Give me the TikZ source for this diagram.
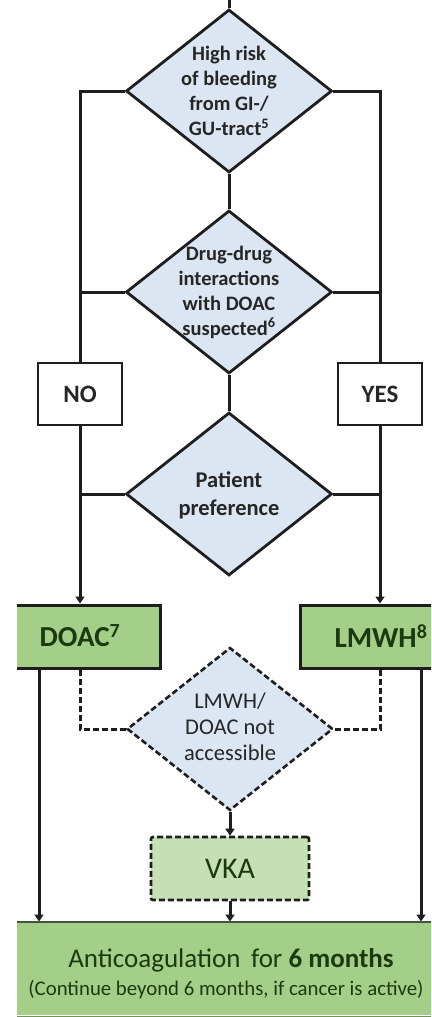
\documentclass[tikz,border=0pt]{standalone}
\usepackage{fontspec}
\setmainfont{Carlito}
\usetikzlibrary{shapes.geometric,arrows.meta}
\definecolor{dblue}{HTML}{DCE6F2}
\definecolor{gfill}{HTML}{A4CF88}
\definecolor{gvka}{HTML}{C5E0B4}
\definecolor{gtext}{HTML}{1C3A10}
\definecolor{ink}{HTML}{1E1E1E}
\definecolor{dtxt}{HTML}{262626}
\tikzset{
  conn/.style={draw=ink, line width=3pt},
  arr/.style={conn, -{Triangle[length=7pt,width=9pt]}},
  dsh/.style={dash pattern=on 6pt off 3pt},
  dia/.style={shape=diamond, draw=ink, line width=2.8pt, fill=dblue, inner sep=0pt,
    minimum width=206pt, minimum height=163pt},
  dtext/.style={align=center, text=dtxt, font=\bfseries\fontsize{20.5}{25}\selectfont},
  ynbox/.style={draw=ink, line width=2.6pt, fill=white, minimum width=84pt, minimum height=62pt,
    font=\bfseries\fontsize{25}{28}\selectfont, text=dtxt},
  gbox/.style={draw=ink, line width=3pt, fill=gfill},
  gtxt/.style={text=gtext, font=\bfseries\fontsize{29}{34}\selectfont},
}
\begin{document}
\begin{tikzpicture}[x=1pt,y=-1pt]
\useasboundingbox (0,0) rectangle (431,1017);
\clip (0,0) rectangle (431,1017);
% diamonds
\node[dia] (d1) at (229,91) {};
\node[dtext] at (d1) {High risk\\of bleeding\\from GI-/\\GU-tract\textsuperscript{5}};
\node[dia] (d2) at (229,292) {};
\node[dtext] at (d2) {Drug-drug\\interactions\\with DOAC\\suspected\textsuperscript{6}};
\node[dia] (d3) at (229,494) {};
\node[dtext, font=\bfseries\fontsize{22.5}{28}\selectfont, yshift=-1pt] at (d3) {Patient\\preference};
\node[dia, dsh, line width=2.6pt] (d4) at (230,729) {};
\node[dtext, font=\fontsize{22.5}{26}\selectfont, yshift=2pt] at (d4) {LMWH/\\DOAC not\\accessible};
% yes/no
\node[ynbox] (no) at (80,394) {NO};
\node[ynbox] (yes) at (380,394) {YES};
% green boxes (left edge cropped)
\begin{scope}
\clip (17,0) rectangle (431,1017);
\node[gbox, minimum width=163pt, minimum height=63pt] (doac) at (78.5,636.5) {};
\node[gbox, minimum width=163pt, minimum height=63pt] (lmwh) at (381.5,636.5) {};
\node[gbox, draw=none, minimum width=460pt, minimum height=92pt] (ac) at (231,969) {};
\draw[ink!70!gfill, line width=2pt] (ac.north west) -- (ac.north east);
\draw[gfill!70!black, line width=1.5pt] (ac.south west) -- (ac.south east);
\end{scope}
\node[gtxt] at (80,636) {DOAC\textsuperscript{\fontsize{20}{20}\selectfont 7}};
\node[gtxt] at (381,636) {LMWH\textsuperscript{\fontsize{20}{20}\selectfont 8}};
\node[draw=ink, line width=2.6pt, dsh, rounded corners=2pt, fill=gvka, minimum width=158pt, minimum height=63pt,
  text=gtext, font=\fontsize{30}{34}\selectfont] (vka) at (230,868.5) {VKA};
\node[align=center, text=gtext, font=\fontsize{27}{30}\selectfont] at (231,960) {Anticoagulation\, for \textbf{6 months}};
\node[align=center, text=gtext, font=\fontsize{20.8}{24}\selectfont] at (226,990) {(Continue beyond 6 months, if cancer is active)};
% connectors
\coordinate (top) at (229,0);
\draw[conn] (top) -- (d1.north);
\draw[conn] (d1.west) -| (no.north);
\draw[conn] (d1.east) -| (yes.north);
\draw[conn] (d1.south) -- (d2.north);
\draw[conn] (d2.west) -- (d2.west -| no.north);
\draw[conn] (d2.east) -- (d2.east -| yes.north);
\draw[conn] (d2.south) -- (d3.north);
\draw[conn] (d3.west) -- (d3.west -| no.north);
\draw[conn] (d3.east) -- (d3.east -| yes.north);
\draw[arr] (no.south) -- (no.south |- doac.north);
\draw[arr] (yes.south) -- (yes.south |- lmwh.north);
\draw[conn, dsh] (no.south |- doac.south) |- (d4.west);
\draw[conn, dsh] (yes.south |- lmwh.south) |- (d4.east);
\coordinate (dl) at (39,668);
\coordinate (dr) at (421,668);
\draw[arr] (dl) -- (dl |- ac.north);
\draw[arr] (dr) -- (dr |- ac.north);
\draw[arr] (d4.south) -- (vka.north);
\draw[arr] (vka.south) -- (vka.south |- ac.north);
\end{tikzpicture}
\end{document}
